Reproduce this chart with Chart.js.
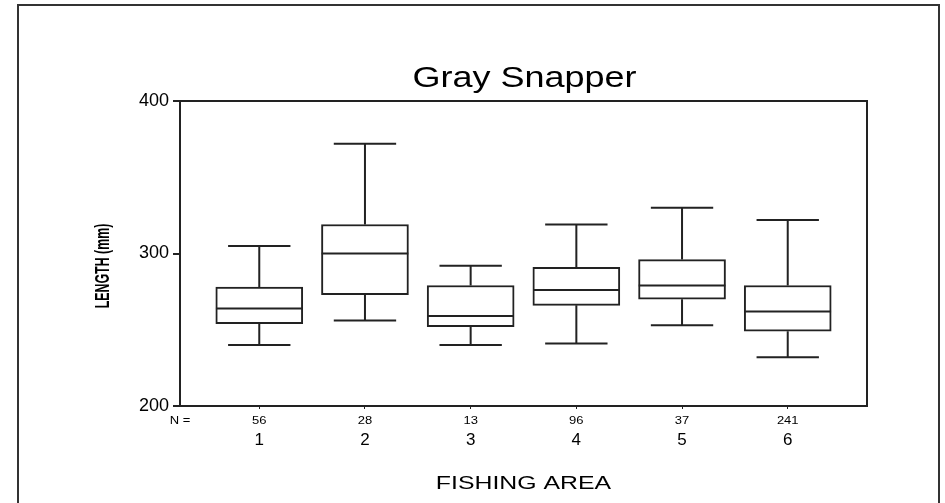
<!DOCTYPE html>
<html>
<head>
<meta charset="utf-8">
<script src="https://cdn.jsdelivr.net/npm/chart.js@4.4.1/dist/chart.umd.min.js"></script>
<style>
  body { margin: 0; background: #fff; }
  #wrap { width: 945px; height: 503px; }
</style>
</head>
<body>
<div id="wrap"><canvas id="myChart"></canvas></div>
<script>
// fishing areas and sample sizes
const areas = ['1', '2', '3', '4', '5', '6'];
const counts = [56, 28, 13, 96, 37, 241];

// box plot values (length, mm)
const whiskerLow  = [240, 256, 240, 241, 253, 232];
const q1          = [254, 273, 252, 266, 270, 249];
const median      = [264, 300, 259, 276, 279, 262];
const q3          = [278, 319, 279, 291, 296, 279];
const whiskerHigh = [305, 372, 292, 319, 330, 322];

const yTicks = [200, 300, 400];

const ink = '#222';
const fontFam = "'Liberation Sans', Arial, sans-serif";

function stretchText(ctx, text, x, y, sx, font) {
    ctx.save();
    ctx.translate(x, y);
    ctx.scale(sx, 1);
    ctx.font = font;
    ctx.textAlign = 'center';
    ctx.fillStyle = '#000';
    ctx.fillText(text, 0, 0);
    ctx.restore();
}

const boxPlugin = {
    id: 'boxExtras',
    afterDatasetsDraw(chart) {
        const ctx = chart.ctx;
        const xs = chart.scales.x, ys = chart.scales.y;
        const capHalf = 0.295; // in x units
        const boxHalf = 0.41;
        ctx.save();
        ctx.strokeStyle = ink;
        ctx.lineWidth = 2;
        for (let i = 0; i < areas.length; i++) {
            const cx = xs.getPixelForValue(i + 1);
            const cl = xs.getPixelForValue(i + 1 - capHalf);
            const cr = xs.getPixelForValue(i + 1 + capHalf);
            const bl = xs.getPixelForValue(i + 1 - boxHalf);
            const br = xs.getPixelForValue(i + 1 + boxHalf);
            ctx.beginPath();
            // upper whisker
            ctx.moveTo(cx, ys.getPixelForValue(q3[i]));
            ctx.lineTo(cx, ys.getPixelForValue(whiskerHigh[i]));
            ctx.moveTo(cl, ys.getPixelForValue(whiskerHigh[i]));
            ctx.lineTo(cr, ys.getPixelForValue(whiskerHigh[i]));
            // lower whisker
            ctx.moveTo(cx, ys.getPixelForValue(q1[i]));
            ctx.lineTo(cx, ys.getPixelForValue(whiskerLow[i]));
            ctx.moveTo(cl, ys.getPixelForValue(whiskerLow[i]));
            ctx.lineTo(cr, ys.getPixelForValue(whiskerLow[i]));
            // median
            ctx.moveTo(bl, ys.getPixelForValue(median[i]));
            ctx.lineTo(br, ys.getPixelForValue(median[i]));
            ctx.stroke();
        }
        ctx.restore();
    },
    afterDraw(chart) {
        const ctx = chart.ctx;
        const a = chart.chartArea;
        const xs = chart.scales.x;
        ctx.save();
        // plot frame
        ctx.strokeStyle = ink;
        ctx.lineWidth = 2;
        ctx.strokeRect(a.left, a.top, a.right - a.left, a.bottom - a.top);
        // outer frame
        ctx.strokeStyle = '#333';
        ctx.strokeRect(18, 5, 921, 520);
        ctx.restore();

        stretchText(ctx, 'Gray Snapper', (a.left + a.right) / 2 + 1, 87, 1.2, '30px ' + fontFam);

        // N row
        stretchText(ctx, 'N =', a.left, 424, 1.3, '10px ' + fontFam);
        for (let i = 0; i < areas.length; i++) {
            stretchText(ctx, String(counts[i]), xs.getPixelForValue(i + 1), 424, 1.3, '10px ' + fontFam);
        }

        stretchText(ctx, 'FISHING AREA', (a.left + a.right) / 2, 489, 1.38, '18px ' + fontFam);

        // y axis title, squeezed like the original
        ctx.save();
        ctx.translate(109, 266);
        ctx.rotate(-Math.PI / 2);
        ctx.scale(0.62, 1);
        ctx.font = 'bold 20px ' + fontFam;
        ctx.textAlign = 'center';
        ctx.fillStyle = '#000';
        ctx.fillText('LENGTH (mm)', 0, 0);
        ctx.restore();
    }
};

const ctx = document.getElementById('myChart').getContext('2d');
const myChart = new Chart(ctx, {
    type: 'bar',
    data: {
        datasets: [{
            label: 'IQR',
            data: areas.map((a, i) => ({ x: i + 1, y: [q1[i], q3[i]] })),
            backgroundColor: '#fff',
            borderColor: ink,
            borderWidth: 2,
            borderSkipped: false,
            barThickness: 87
        }]
    },
    options: {
        responsive: true,
        maintainAspectRatio: false,
        animation: false,
        events: [],
        layout: { padding: { left: 0, top: 101, right: 78, bottom: 0 } },
        plugins: {
            legend: { display: false },
            title: { display: false },
            tooltip: { enabled: false }
        },
        scales: {
            x: {
                type: 'linear',
                offset: false,
                min: 0.25,
                max: 6.75,
                afterFit(scale) { scale.height = 97; },
                afterBuildTicks(scale) { scale.ticks = areas.map((a, i) => ({ value: i + 1 })); },
                grid: { offset: false, drawOnChartArea: false, drawTicks: true, tickLength: 3, color: ink, lineWidth: 1 },
                border: { display: true, color: ink, width: 2 },
                ticks: {
                    padding: 21,
                    color: '#000',
                    maxRotation: 0,
                    autoSkip: false,
                    font: { family: fontFam, size: 17 },
                    callback: (v) => areas[v - 1]
                }
            },
            y: {
                min: 200,
                max: 400,
                afterFit(scale) { scale.width = 180; },
                afterBuildTicks(scale) { scale.ticks = yTicks.map(v => ({ value: v })); },
                grid: { drawOnChartArea: false, drawTicks: true, tickLength: 7, color: ink, lineWidth: 2 },
                border: { display: true, color: ink, width: 2 },
                ticks: {
                    padding: 4,
                    color: '#000',
                    font: { family: fontFam, size: 18 }
                }
            }
        }
    },
    plugins: [boxPlugin]
});
</script>
</body>
</html>
